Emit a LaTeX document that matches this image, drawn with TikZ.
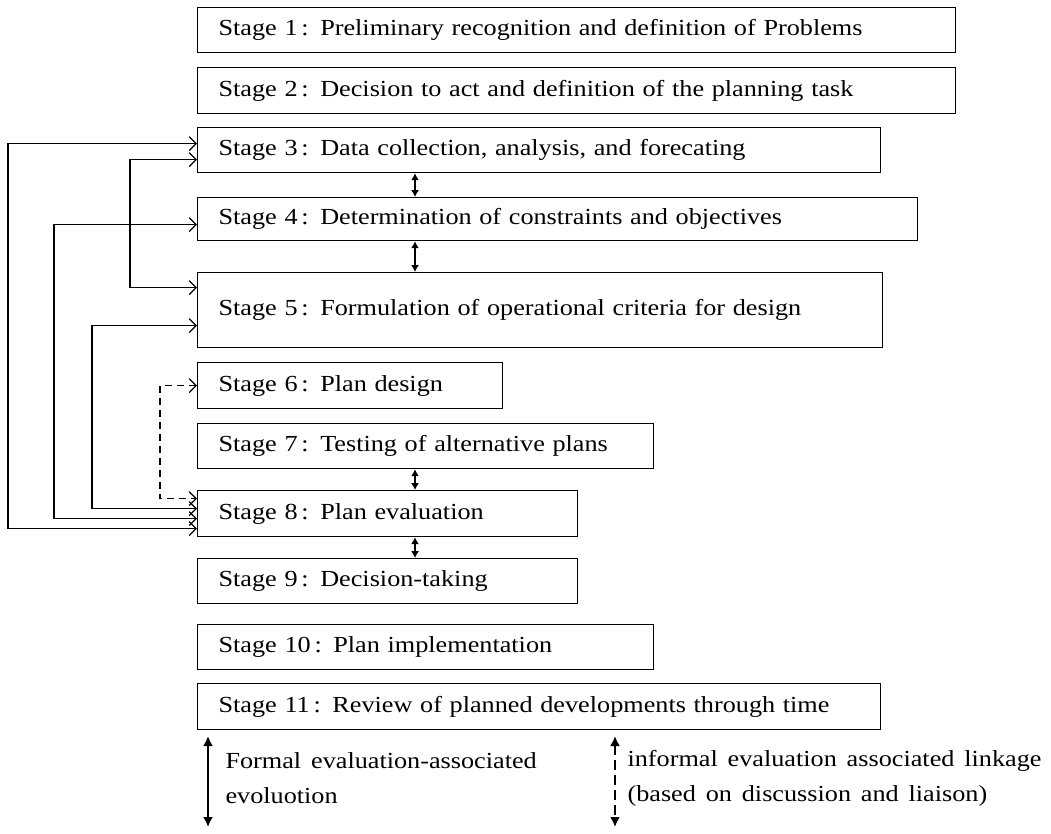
\documentclass[tikz,border=0pt]{standalone}
\usepackage{fontspec}
\setmainfont[WordSpace=1.5,FakeStretch=1.14]{Liberation Serif}
\usetikzlibrary{arrows.meta}

\begin{document}
\begin{tikzpicture}[x=1pt,y=-1pt,
  stagebox/.style={draw,line width=1.2pt,anchor=north west,inner xsep=21pt,inner ysep=0pt,
    align=left,font=\fontsize{23}{27}\selectfont},
  loopline/.style={line width=1.2pt,{Straight Barb[length=7pt,width=14pt]}-{Straight Barb[length=7pt,width=14pt]}},
  formal/.style={line width=1.2pt,{Latex[length=7pt,width=8pt]}-{Latex[length=7pt,width=8pt]}},
  legendarrow/.style={line width=2.6pt,{Latex[length=10pt,width=10pt]}-{Latex[length=10pt,width=10pt]}},
  note/.style={anchor=west,font=\fontsize{23}{27}\selectfont}]
\useasboundingbox (0,0) rectangle (1051,833);
% stages
\node[stagebox,text width=716pt,minimum height=45pt] (s1) at (197,7) {Stage 1\,: Preliminary recognition and definition of Problems};
\node[stagebox,text width=716pt,minimum height=46pt] (s2) at (197,67) {Stage 2\,: Decision to act and definition of the planning task};
\node[stagebox,text width=641pt,minimum height=45pt] (s3) at (197,127) {Stage 3\,: Data collection, analysis, and forecating};
\node[stagebox,text width=678pt,minimum height=43pt] (s4) at (197,197) {Stage 4\,: Determination of constraints and objectives};
\node[stagebox,text width=643pt,minimum height=75pt] (s5) at (197,272) {Stage 5\,: Formulation of operational criteria for design};
\node[stagebox,text width=263pt,minimum height=46pt] (s6) at (197,362) {Stage 6\,: Plan design};
\node[stagebox,text width=414pt,minimum height=45pt] (s7) at (197,423) {Stage 7\,: Testing of alternative plans};
\node[stagebox,text width=338pt,minimum height=46pt] (s8) at (197,490) {Stage 8\,: Plan evaluation};
\node[stagebox,text width=338pt,minimum height=45pt] (s9) at (197,558) {Stage 9\,: Decision-taking};
\node[stagebox,text width=414pt,minimum height=45pt] (s10) at (197,624) {Stage 10\,: Plan implementation};
\node[stagebox,text width=641pt,minimum height=46pt] (s11) at (197,683) {Stage 11\,: Review of planned developments through time};
% formal links
\draw[formal] ([xshift=218pt]s3.south west) -- ([xshift=218pt]s4.north west);
\draw[formal] ([xshift=218pt]s4.south west) -- ([xshift=218pt]s5.north west);
\draw[formal] ([xshift=218pt]s7.south west) -- ([xshift=218pt]s8.north west);
\draw[formal] ([xshift=218pt]s8.south west) -- ([xshift=218pt]s9.north west);
% feedback loops
\draw[loopline] ([yshift=6.5pt]s3.west) -- ++(-189,0) |- ([yshift=-15pt]s8.west);
\draw[loopline] ([yshift=-9.5pt]s3.west) -- ++(-67,0) |- ([yshift=22.5pt]s5.west);
\draw[loopline] ([yshift=-5.5pt]s4.west) -- ++(-143,0) |- ([yshift=-5pt]s8.west);
\draw[loopline] ([yshift=-15.5pt]s5.west) -- ++(-105,0) |- ([yshift=5pt]s8.west);
\draw[loopline,dash pattern=on 7pt off 5pt] (s6.west) -- ++(-37,0) |- ([yshift=15pt]s8.west);
% legend
\coordinate (fa) at (208,736);
\coordinate (fb) at (208,827);
\draw[legendarrow] (fa) -- (fb);
\node[note] (ft1) at (222,761) {Formal evaluation-associated};
\node[note] (ft2) at (222,796) {evoluotion};
\coordinate (ia) at (615,736);
\coordinate (ib) at (615,827);
\draw[legendarrow,dash pattern=on 10pt off 5pt] (ia) -- (ib);
\node[note] (it1) at (624,761) {informal evaluation associated linkage};
\node[note] (it2) at (624,796) {(based on discussion and liaison)};
\end{tikzpicture}
\end{document}
